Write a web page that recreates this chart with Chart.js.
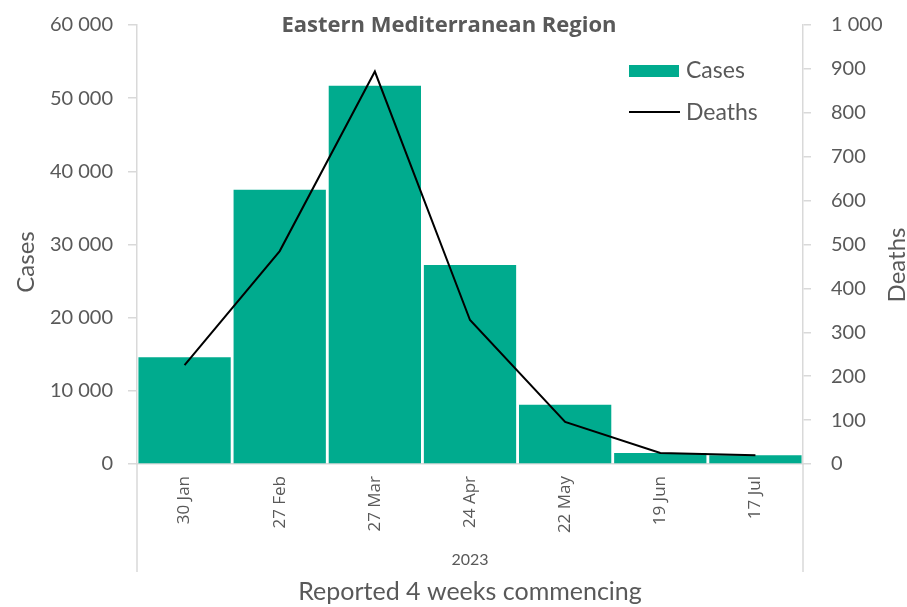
<!DOCTYPE html>
<html lang="en">
<head>
    <meta charset="UTF-8">
    <title>Eastern Mediterranean Region</title>
    <script src="https://cdn.jsdelivr.net/npm/chart.js"></script>
    <style>
        html, body { margin: 0; padding: 0; background: #fff; }
        .chart-container { width: 907px; height: 607px; position: relative; }
    </style>
</head>
<body>
    <div class="chart-container">
        <canvas id="emroChart"></canvas>
    </div>
    <script>
        const categories = ['30 Jan', '27 Feb', '27 Mar', '24 Apr', '22 May', '19 Jun', '17 Jul'];
        const cases = [14600, 37500, 51700, 27200, 8100, 1500, 1200];
        const deaths = [225, 485, 894, 328, 96, 25, 20];
        const groupLabel = '2023';

        const textColor = '#595959';
        const axisColor = '#d9d9d9';
        const barColor = '#00ab8e';
        const mainFont = 'Lato';

        const spaced = v => Number(v).toLocaleString('en-US').replace(/,/g, ' ');

        // fixed axis boxes so the plot lands where the original one is
        const fitSide = w => scale => {
            scale.width = w;
            scale.paddingTop = 0;
            scale.paddingBottom = 0;
        };

        // title, legend, axis titles, year group and the category separators
        const extras = {
            id: 'extras',
            afterDraw(chart) {
                const { ctx, chartArea } = chart;
                ctx.save();
                ctx.fillStyle = textColor;
                ctx.textBaseline = 'middle';

                ctx.font = 'bold 22px "Open Sans"';
                ctx.textAlign = 'center';
                ctx.fillText('Eastern Mediterranean Region', 449, 26);

                // legend
                ctx.fillStyle = barColor;
                ctx.fillRect(629, 65, 50, 12);
                ctx.strokeStyle = '#000';
                ctx.lineWidth = 2;
                ctx.beginPath();
                ctx.moveTo(629, 112);
                ctx.lineTo(680, 112);
                ctx.stroke();
                ctx.fillStyle = textColor;
                ctx.font = `23px ${mainFont}`;
                ctx.textAlign = 'left';
                ctx.fillText('Cases', 686, 71);
                ctx.fillText('Deaths', 686, 113);

                // both value axis titles read bottom to top
                ctx.font = `24px ${mainFont}`;
                ctx.textAlign = 'center';
                [[26, 262, 'Cases'], [897, 265, 'Deaths']].forEach(([x, y, t]) => {
                    ctx.save();
                    ctx.translate(x, y);
                    ctx.rotate(-Math.PI / 2);
                    ctx.fillText(t, 0, 0);
                    ctx.restore();
                });

                // multi-level category axis
                ctx.strokeStyle = axisColor;
                ctx.lineWidth = 1.5;
                ctx.beginPath();
                ctx.moveTo(chartArea.left, chartArea.bottom);
                ctx.lineTo(chartArea.left, 572);
                ctx.moveTo(chartArea.right, chartArea.bottom);
                ctx.lineTo(chartArea.right, 572);
                ctx.stroke();
                ctx.font = `16px ${mainFont}`;
                ctx.fillText(groupLabel, (chartArea.left + chartArea.right) / 2, 560);
                ctx.restore();
            }
        };

        const ctx = document.getElementById('emroChart').getContext('2d');
        new Chart(ctx, {
            type: 'bar',
            data: {
                labels: categories,
                datasets: [
                    {
                        type: 'line',
                        label: 'Deaths',
                        data: deaths,
                        yAxisID: 'y1',
                        borderColor: '#000',
                        borderWidth: 2,
                        pointRadius: 0,
                        tension: 0,
                        order: 0
                    },
                    {
                        label: 'Cases',
                        data: cases,
                        yAxisID: 'y',
                        backgroundColor: barColor,
                        barPercentage: 0.97,
                        categoryPercentage: 1,
                        order: 1
                    }
                ]
            },
            options: {
                responsive: true,
                maintainAspectRatio: false,
                animation: false,
                layout: { padding: { top: 25, left: 0, right: 0, bottom: 0 } },
                plugins: {
                    legend: { display: false },
                    title: { display: false },
                    tooltip: { enabled: false }
                },
                scales: {
                    x: {
                        grid: { display: false, drawTicks: false },
                        border: { display: true, color: axisColor, width: 1.5 },
                        ticks: {
                            color: textColor,
                            font: { family: 'Open Sans', size: 17 },
                            minRotation: 90,
                            maxRotation: 90,
                            autoSkip: false,
                            padding: 12
                        },
                        title: {
                            display: true,
                            text: 'Reported 4 weeks commencing',
                            color: textColor,
                            font: { family: mainFont, size: 25 },
                            padding: 0
                        },
                        afterFit(scale) { scale.height = 143; }
                    },
                    y: {
                        position: 'left',
                        min: 0,
                        max: 60000,
                        ticks: {
                            stepSize: 10000,
                            color: textColor,
                            font: { family: mainFont, size: 20 },
                            padding: 15,
                            callback: v => spaced(v)
                        },
                        grid: { drawOnChartArea: false, color: axisColor, tickLength: 9, lineWidth: 1.5 },
                        border: { display: true, color: axisColor, width: 1.5 },
                        afterFit: fitSide(137)
                    },
                    y1: {
                        position: 'right',
                        min: 0,
                        max: 1000,
                        ticks: {
                            stepSize: 100,
                            color: textColor,
                            font: { family: mainFont, size: 20 },
                            padding: 20,
                            callback: v => spaced(v)
                        },
                        grid: { drawOnChartArea: false, color: axisColor, tickLength: 8, lineWidth: 1.5 },
                        border: { display: true, color: axisColor, width: 1.5 },
                        afterFit: fitSide(104)
                    }
                }
            },
            plugins: [extras]
        });
    </script>
</body>
</html>
